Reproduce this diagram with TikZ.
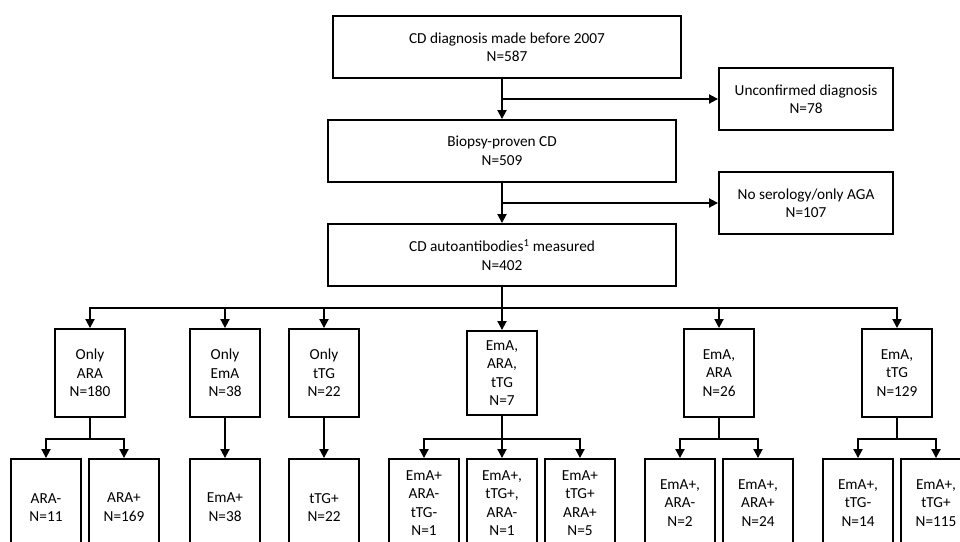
\documentclass[tikz,border=0pt]{standalone}
\usepackage{fontspec}
\setmainfont{Carlito}
\usetikzlibrary{arrows.meta}

\begin{document}
\begin{tikzpicture}[x=1pt, y=-1pt, ->, >={Triangle[length=9pt,width=9pt]},
    line width=1.9pt,
    box/.style={rectangle,
        draw,
        inner sep=0pt,
        align=center,
        minimum width=70pt,
        minimum height=88pt,
        font=\fontsize{15.3}{18.5}\selectfont},
    widebox/.style={box, minimum width=348pt, minimum height=62pt},
    sidebox/.style={box, minimum width=174pt, minimum height=62pt}]

    \clip (0,0) rectangle (960,541);

    % main column
    \node[widebox] (diag) at (507,47) {CD diagnosis made before 2007\\N=587};
    \node[widebox] (biopsy) at (502,151) {Biopsy-proven CD\\N=509};
    \node[widebox] (autoab) at (502,255) {CD autoantibodies\textsuperscript{1} measured\\N=402};

    % excluded
    \node[sidebox] (unconf) at (806,99) {Unconfirmed diagnosis\\N=78};
    \node[sidebox] (noser) at (806,203) {No serology/only AGA\\N=107};

    % antibody groups
    \node[box] (onlyara) at (90,373) {Only\\ARA\\N=180};
    \node[box] (onlyema) at (225,373) {Only\\EmA\\N=38};
    \node[box] (onlyttg) at (324,373) {Only\\tTG\\N=22};
    \node[box, minimum height=84pt] (emaratg) at (502,373) {EmA,\\ARA,\\tTG\\N=7};
    \node[box] (emara) at (719,373) {EmA,\\ARA\\N=26};
    \node[box] (ematg) at (897,373) {EmA,\\tTG\\N=129};

    % results
    \node[box] (aran) at (46,503) {\mbox{}\\ARA-\\N=11};
    \node[box] (arap) at (124,503) {\mbox{}\\ARA+\\N=169};
    \node[box] (emap) at (225,503) {\mbox{}\\EmA+\\N=38};
    \node[box] (ttgp) at (324,503) {\mbox{}\\tTG+\\N=22};
    \node[box] (trio1) at (424,503) {EmA+\\ARA-\\tTG-\\N=1};
    \node[box] (trio2) at (502,503) {EmA+,\\tTG+,\\ARA-\\N=1};
    \node[box] (trio3) at (580,503) {EmA+\\tTG+\\ARA+\\N=5};
    \node[box] (emaran) at (680,503) {EmA+,\\ARA-\\N=2};
    \node[box] (emarap) at (758,503) {EmA+,\\ARA+\\N=24};
    \node[box] (ematgn) at (858,503) {EmA+,\\tTG-\\N=14};
    \node[box] (ematgp) at (936,503) {EmA+,\\tTG+\\N=115};

    \path
    (diag.south -| biopsy.north) edge (biopsy.north)
    (biopsy.south) edge (autoab.north)
    (biopsy.north |- unconf.west) edge (unconf.west)
    (autoab.north |- noser.west) edge (noser.west);

    % first split
    \coordinate (split) at (502,308);
    \draw[-] (autoab.south) -- (split);
    \foreach \grp in {onlyara,onlyema,onlyttg,emara,ematg}
        \draw (split) -| (\grp.north);
    \draw (split) -- (emaratg.north);

    % second split
    \draw[-] (onlyara.south) -- ++(0,21) coordinate (sara);
    \draw (sara) -| (aran.north);
    \draw (sara) -| (arap.north);

    \draw (onlyema.south) -- (emap.north);
    \draw (onlyttg.south) -- (ttgp.north);

    \draw[-] (emaratg.south) -- ++(0,23) coordinate (strio);
    \draw (strio) -| (trio1.north);
    \draw (strio) -- (trio2.north);
    \draw (strio) -| (trio3.north);

    \draw[-] (emara.south) -- ++(0,21) coordinate (semara);
    \draw (semara) -| (emaran.north);
    \draw (semara) -| (emarap.north);

    \draw[-] (ematg.south) -- ++(0,21) coordinate (sematg);
    \draw (sematg) -| (ematgn.north);
    \draw (sematg) -| (ematgp.north);

\end{tikzpicture}
\end{document}
